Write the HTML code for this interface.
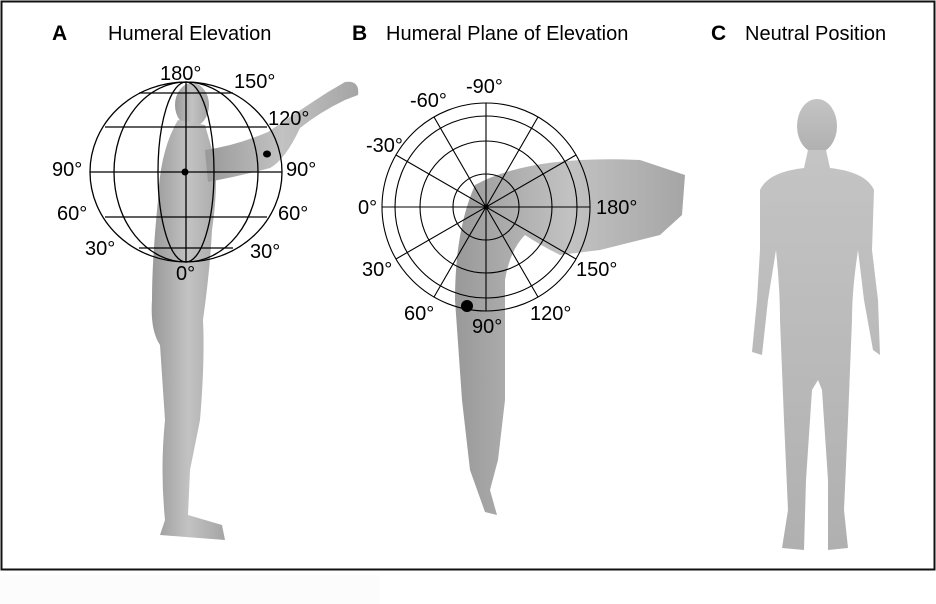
<!DOCTYPE html>
<html><head><style>
html,body{margin:0;padding:0;background:#fff;}
svg{display:block}
text{font-family:"Liberation Sans",sans-serif;}
</style></head><body>
<svg width="936" height="604" viewBox="0 0 936 604" xmlns="http://www.w3.org/2000/svg">
<defs>
<linearGradient id="g" x1="0" x2="1"><stop offset="0" stop-color="#999"/><stop offset=".5" stop-color="#c2c2c2"/><stop offset="1" stop-color="#a5a5a5"/></linearGradient>
<linearGradient id="gv" x1="0" y1="0" x2="0" y2="1"><stop offset="0" stop-color="#c4c4c4"/><stop offset="1" stop-color="#b0b0b0"/></linearGradient>
</defs>
<rect x="0" y="0" width="936" height="604" fill="#fff"/>
<rect x="1.5" y="1.5" width="933" height="568" fill="none" stroke="#111" stroke-width="2"/>
<rect x="0" y="575" width="380" height="29" fill="#fcfcfc"/>

<!-- Figure A -->
<g fill="url(#g)">
<ellipse cx="192" cy="105" rx="17" ry="22"/>
<path d="M178 120 Q160 150 158 200 Q152 260 152 300 Q150 330 160 345 L165 420 Q160 470 165 520 L160 535 L225 540 L222 525 L188 515 L190 470 L200 420 Q205 360 203 320 Q210 270 212 230 Q218 190 215 160 L205 125 Z"/>
<path d="M205 150 Q235 146 268 132 Q300 110 328 92 L345 82 Q360 80 358 95 L345 100 Q320 112 300 128 Q285 160 270 168 Q240 176 208 182 Z"/>
</g>
<g fill="none" stroke="#000" stroke-width="1.3">
<ellipse cx="186" cy="172" rx="96" ry="90"/>
<ellipse cx="186" cy="172" rx="72" ry="90"/>
<ellipse cx="186" cy="172" rx="28" ry="90"/>
<line x1="186" y1="82" x2="186" y2="262"/>
<line x1="139" y1="93" x2="233" y2="93"/>
<line x1="105" y1="127" x2="267" y2="127"/>
<line x1="90" y1="172" x2="282" y2="172"/>
<line x1="105" y1="217" x2="267" y2="217"/>
<line x1="139" y1="248" x2="233" y2="248"/>
</g>
<circle cx="185" cy="172" r="3.5"/>
<ellipse cx="267" cy="154" rx="4" ry="3.5"/>
<g font-size="20" fill="#000">
<text x="160" y="80">180°</text><text x="234" y="88">150°</text><text x="268" y="125">120°</text>
<text x="52" y="176">90°</text><text x="286" y="176">90°</text>
<text x="57" y="220">60°</text><text x="278" y="220">60°</text>
<text x="85" y="255">30°</text><text x="250" y="258">30°</text>
<text x="176" y="280">0°</text>
</g>
<text x="52" y="40" font-size="21" font-weight="bold">A</text>
<text x="108" y="40" font-size="20">Humeral Elevation</text>

<!-- Figure B -->
<g fill="url(#g)">
<path d="M475 185 Q530 155 640 160 L685 175 L682 215 L660 235 L600 250 L560 255 Q540 245 525 235 Q510 250 505 280 L505 400 L498 460 L490 490 L497 515 L485 512 L470 470 L462 400 L455 300 Q455 230 475 185 Z"/>
</g>
<g fill="none" stroke="#000" stroke-width="1.1">
<circle cx="486" cy="207" r="104"/><circle cx="486" cy="207" r="91"/><circle cx="486" cy="207" r="66"/><circle cx="486" cy="207" r="33"/>
<line x1="382" y1="207" x2="590" y2="207"/>
<line x1="486" y1="103" x2="486" y2="311"/>
<line x1="396" y1="155" x2="576" y2="259"/>
<line x1="396" y1="259" x2="576" y2="155"/>
<line x1="434" y1="117" x2="538" y2="297"/>
<line x1="434" y1="297" x2="538" y2="117"/>
</g>
<circle cx="486" cy="207" r="2.5"/>
<circle cx="467" cy="306" r="6"/>
<g font-size="20" fill="#000">
<text x="466" y="93">-90°</text><text x="410" y="107">-60°</text><text x="366" y="152">-30°</text>
<text x="358" y="214">0°</text><text x="596" y="214">180°</text>
<text x="362" y="276">30°</text><text x="576" y="276">150°</text>
<text x="404" y="320">60°</text><text x="530" y="320">120°</text><text x="472" y="333">90°</text>
</g>
<text x="352" y="40" font-size="21" font-weight="bold">B</text>
<text x="386" y="40" font-size="20">Humeral Plane of Elevation</text>

<!-- Figure C -->
<g fill="url(#gv)">
<ellipse cx="817" cy="126" rx="20" ry="27"/>
<path d="M808 150 L826 150 L830 168 Q866 172 874 190 L872 250 L878 300 L880 355 L873 350 L864 300 L858 250 Q852 290 852 320 L848 420 L844 510 L848 548 L828 550 L828 480 L822 390 L818 380 L812 390 L806 480 L804 550 L782 548 L788 510 L784 420 L780 320 Q780 290 776 250 L768 300 L762 355 L752 352 L757 300 L760 250 L760 190 Q768 172 804 168 Z"/>
</g>
<text x="711" y="40" font-size="21" font-weight="bold">C</text>
<text x="745" y="40" font-size="20">Neutral Position</text>
</svg>
</body></html>
